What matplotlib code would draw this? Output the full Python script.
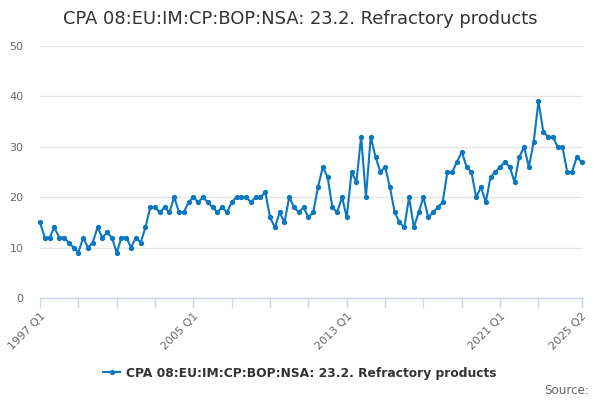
import matplotlib
matplotlib.use("Agg")
import matplotlib.pyplot as plt

title = "CPA 08:EU:IM:CP:BOP:NSA: 23.2. Refractory products"
series_name = "CPA 08:EU:IM:CP:BOP:NSA: 23.2. Refractory products"

quarters = [f"{y} Q{q}" for y in range(1997, 2026) for q in range(1, 5)][:114]

values = [
    15, 12, 12, 14,   # 1997
    12, 12, 11, 10,   # 1998
    9, 12, 10, 11,    # 1999
    14, 12, 13, 12,   # 2000
    9, 12, 12, 10,    # 2001
    12, 11, 14, 18,   # 2002
    18, 17, 18, 17,   # 2003
    20, 17, 17, 19,   # 2004
    20, 19, 20, 19,   # 2005
    18, 17, 18, 17,   # 2006
    19, 20, 20, 20,   # 2007
    19, 20, 20, 21,   # 2008
    16, 14, 17, 15,   # 2009
    20, 18, 17, 18,   # 2010
    16, 17, 22, 26,   # 2011
    24, 18, 17, 20,   # 2012
    16, 25, 23, 32,   # 2013
    20, 32, 28, 25,   # 2014
    26, 22, 17, 15,   # 2015
    14, 20, 14, 17,   # 2016
    20, 16, 17, 18,   # 2017
    19, 25, 25, 27,   # 2018
    29, 26, 25, 20,   # 2019
    22, 19, 24, 25,   # 2020
    26, 27, 26, 23,   # 2021
    28, 30, 26, 31,   # 2022
    39, 33, 32, 32,   # 2023
    30, 30, 25, 25,   # 2024
    28, 27,           # 2025
]

y_ticks = [0, 10, 20, 30, 40, 50]
labelled = ["1997 Q1", "2005 Q1", "2013 Q1", "2021 Q1", "2025 Q2"]

line_color = "#0b78c0"
axis_color = "#ccd6eb"
grid_color = "#e6e6e6"
label_color = "#666666"
title_color = "#333333"

fig = plt.figure(figsize=(6, 4), dpi=100)
ax = fig.add_axes([40 / 600, 1 - 298 / 400, (583.3 - 40) / 600, (298 - 46) / 400])

x = list(range(len(values)))
ax.plot(x, values, color=line_color, linewidth=1.5, marker="o", markersize=2.8,
        label=series_name, zorder=3, clip_on=False)

ax.set_ylim(0, 50)
ax.set_xlim(0, 113.35)
ax.set_yticks(y_ticks)
ax.set_yticklabels([str(v) for v in y_ticks], color=label_color, fontsize=8)
ax.yaxis.grid(True, color=grid_color, linewidth=1)
ax.set_axisbelow(True)
ax.tick_params(axis="y", length=0, pad=12)

tick_pos = list(range(0, 105, 8)) + [113]
tick_lab = [quarters[i] if quarters[i] in labelled else "" for i in tick_pos]
ax.set_xticks(tick_pos)
ax.set_xticklabels(tick_lab, rotation=45, ha="right", rotation_mode="anchor",
                   color=label_color, fontsize=8)
ax.tick_params(axis="x", length=7.2, color=axis_color, width=1, pad=2)

for s in ["top", "right", "left"]:
    ax.spines[s].set_visible(False)
ax.spines["bottom"].set_color(axis_color)
ax.spines["bottom"].set_linewidth(1)

fig.text(0.5, 1 - 19 / 400, title, ha="center", va="center", fontsize=12.9, color=title_color)

leg = fig.legend(loc="center", bbox_to_anchor=(0.5, 1 - 373 / 400), frameon=False,
                 prop={"weight": "bold", "size": 8.8}, handlelength=1.4, handletextpad=0.5)
for t in leg.get_texts():
    t.set_color(title_color)

fig.text(0.982, 1 - 390 / 400, "Source:", ha="right", va="center", fontsize=8.6, color=label_color)

fig.savefig("out.png", dpi=100)
